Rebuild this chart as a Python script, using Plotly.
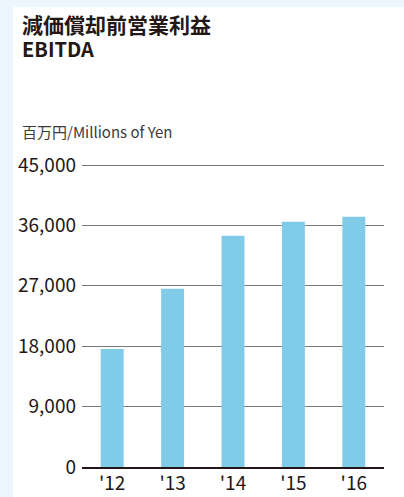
import plotly.graph_objects as go

# EBITDA by fiscal year, millions of yen
years = ["'12", "'13", "'14", "'15", "'16"]
ebitda = [17600, 26550, 34450, 36550, 37300]
y_ticks = [0, 9000, 18000, 27000, 36000, 45000]
y_tick_text = ["0", "9,000", "18,000", "27,000", "36,000", "45,000"]

W, H = 404, 497
ML, MR, MT, MB = 82, 20, 163, 30
PW, PH = W - ML - MR, H - MT - MB
# 45,000 sits 302 px above the baseline; a little headroom keeps its gridline visible
Y_MAX = 45000 * PH / 302

def px_x(px):
    return (px - ML) / PW

def px_y(py):
    return (H - MB - py) / PH

TEXT = "#231815"
FONT = "Noto Sans CJK JP"

fig = go.Figure(
    go.Bar(
        x=years,
        y=ebitda,
        marker=dict(color="#80CCE8", line=dict(width=0)),
        hoverinfo="x+y",
    )
)

fig.update_layout(
    width=W,
    height=H,
    margin=dict(l=ML, r=MR, t=MT, b=MB, pad=0),
    paper_bgcolor="#EEF6FD",
    plot_bgcolor="white",
    bargap=0.62,
    showlegend=False,
    font=dict(family=FONT, color=TEXT),
    xaxis=dict(
        showgrid=False,
        showline=True,
        linecolor=TEXT,
        linewidth=2,
        ticks="",
        tickfont=dict(family=FONT, size=19, color=TEXT),
        ticklabelstandoff=-2,
        automargin=False,
        fixedrange=True,
    ),
    yaxis=dict(
        range=[0, Y_MAX],
        tickvals=y_ticks,
        ticktext=y_tick_text,
        showgrid=True,
        gridcolor="#7a7a7a",
        gridwidth=1,
        zeroline=False,
        showline=False,
        ticks="",
        tickfont=dict(family=FONT, size=19, color=TEXT),
        ticklabelstandoff=5,
        automargin=False,
        fixedrange=True,
    ),
    shapes=[
        # white card behind the chart
        dict(
            type="rect",
            xref="paper",
            yref="paper",
            x0=px_x(13),
            x1=px_x(W + 5),
            y0=px_y(7),
            y1=px_y(H + 5),
            fillcolor="white",
            line=dict(width=0),
            layer="below",
        ),
    ],
    annotations=[
        dict(
            text=(
                "<b><span style='font-size:21px'>減価償却前営業利益</span><br>"
                "<span style='font-size:20px'>EBITDA</span></b>"
            ),
            xref="paper",
            yref="paper",
            x=px_x(20),
            y=px_y(7),
            xanchor="left",
            yanchor="top",
            align="left",
            showarrow=False,
            font=dict(family=FONT, size=18.5, color=TEXT),
        ),
        dict(
            text="百万円/Millions of Yen",
            xref="paper",
            yref="paper",
            x=px_x(20),
            y=px_y(119),
            xanchor="left",
            yanchor="top",
            showarrow=False,
            font=dict(family=FONT, size=15, color="#3e3a39"),
        ),
    ],
)

fig.write_html("out.html")
